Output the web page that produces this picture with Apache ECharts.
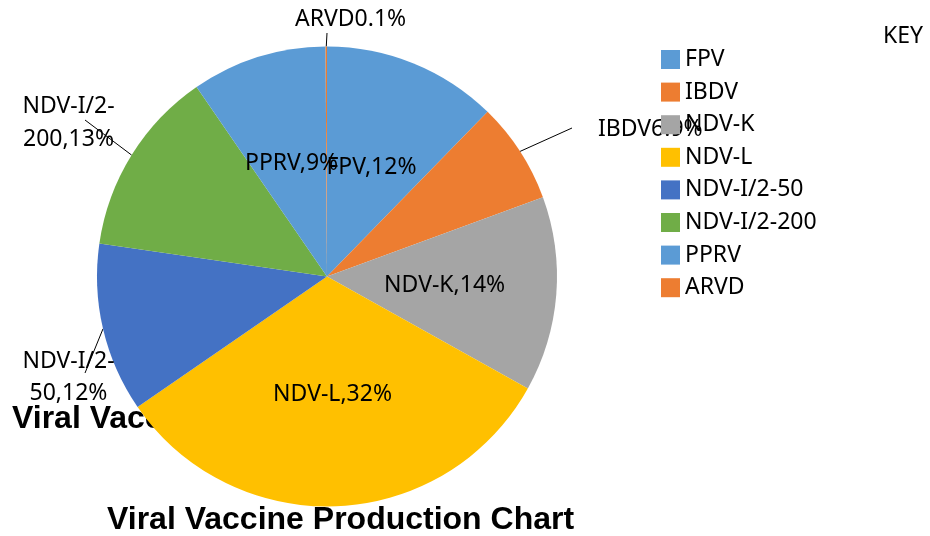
<!DOCTYPE html>
<html>
<head>
<meta charset="utf-8">
<script src="https://cdn.jsdelivr.net/npm/echarts@6/dist/echarts.min.js"></script>
<style>
  html, body { margin: 0; padding: 0; background: #fff; }
  #chart { width: 930px; height: 536px; }
</style>
</head>
<body>
<div id="chart"></div>
<script>
// ---- data ----
var categories = ['FPV', 'IBDV', 'NDV-K', 'NDV-L', 'NDV-I/2-50', 'NDV-I/2-200', 'PPRV', 'ARVD'];
var values = [12.3, 7.1, 13.7, 32.3, 11.9, 13.1, 9.5, 0.1];
var labelTexts = ['FPV,12%', 'IBDV6.9%', 'NDV-K,14%', 'NDV-L,32%', 'NDV-I/2-\n50,12%', 'NDV-I/2-\n200,13%', 'PPRV,9%', 'ARVD0.1%'];
var labelInside = [true, false, true, true, false, false, true, false];
var chartTitle = 'Viral Vaccine Production Chart';
var legendTitle = 'KEY';

// ---- styles ----
var colors = ['#5B9BD5', '#ED7D31', '#A5A5A5', '#FFC000', '#4472C4', '#70AD47', '#5B9BD5', '#ED7D31'];
var FONT = 'Noto Sans';
var LABEL_SIZE = 23;

// placement of the outside labels (layout only)
var outsidePlacement = {
  1: { x: 598, y: 129, align: 'left', end: [572, 128] },
  4: { x: 68.5, y: 377, align: 'center', end: [85, 373], lh: 32 },
  5: { x: 68.5, y: 122.5, align: 'center', end: [85, 120], lh: 33 },
  7: { x: 295, y: 19.5, align: 'left', end: [327, 33] }
};

var data = categories.map(function (name, i) {
  var item = { name: name, value: values[i], itemStyle: { color: colors[i] } };
  if (labelInside[i]) {
    item.label = { position: 'inside' };
    item.labelLine = { show: false };
  } else {
    var pl = outsidePlacement[i];
    item.label = { position: 'outside', width: 150, lineHeight: pl.lh || 24 };
    item.labelLine = { show: true, length: 12, length2: 0 };
  }
  return item;
});

var chart = echarts.init(document.getElementById('chart'), null, { renderer: 'canvas' });
chart.setOption({
  backgroundColor: '#ffffff',
  animation: false,
  title: [
    {
      text: chartTitle, left: 12, top: 403, padding: 0, z: 0, zlevel: 0,
      textStyle: { fontFamily: 'Liberation Sans', fontWeight: 'bold', fontSize: 32, lineHeight: 32, color: '#000' }
    },
    {
      text: chartTitle, left: 107, top: 504, padding: 0,
      textStyle: { fontFamily: 'Liberation Sans', fontWeight: 'bold', fontSize: 32, lineHeight: 32, color: '#000' }
    },
    {
      text: legendTitle, left: 883, top: 25, padding: 0,
      textStyle: { fontFamily: FONT, fontWeight: 'normal', fontSize: LABEL_SIZE, lineHeight: 23, color: '#000' }
    }
  ],
  legend: {
    orient: 'vertical',
    left: 661, top: 48,
    padding: 0,
    itemWidth: 19, itemHeight: 19, itemGap: 9.6,
    icon: 'rect',
    data: categories,
    textStyle: { fontFamily: FONT, fontSize: LABEL_SIZE, lineHeight: 19, color: '#000', padding: [0, 0, 0, 0] }
  },
  series: [{
    type: 'pie',
    z: 2,
    center: [327, 276.5],
    radius: 230,
    startAngle: 90,
    clockwise: true,
    avoidLabelOverlap: false,
    itemStyle: { borderWidth: 0 },
    emphasis: { disabled: true },
    label: {
      show: true,
      color: '#000',
      fontFamily: FONT,
      fontSize: LABEL_SIZE,
      formatter: function (p) { return labelTexts[p.dataIndex]; }
    },
    labelLine: { lineStyle: { color: '#000', width: 1 } },
    labelLayout: function (p) {
      var pl = outsidePlacement[p.dataIndex];
      if (!pl) return {};
      var res = { x: pl.x, y: pl.y, align: pl.align, verticalAlign: 'middle' };
      if (p.labelLinePoints && p.labelLinePoints.length) {
        res.labelLinePoints = [p.labelLinePoints[0].slice(), pl.end.slice()];
      }
      return res;
    },
    data: data
  }]
});
</script>
</body>
</html>
